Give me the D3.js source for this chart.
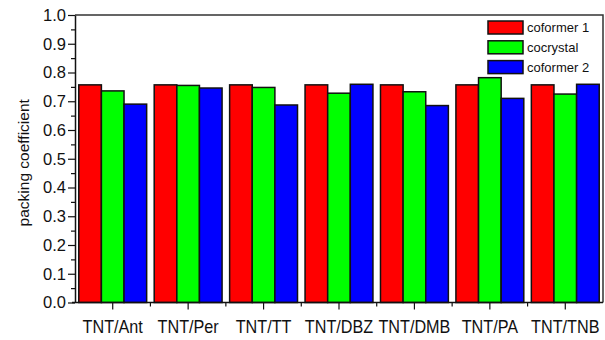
<!DOCTYPE html>
<html>
<head>
<meta charset="utf-8">
<script src="https://cdn.jsdelivr.net/npm/d3@7"></script>
<style>
  body { margin: 0; background: #fff; }
  text { font-family: "Liberation Sans", Arial, sans-serif; fill: #111; }
</style>
</head>
<body>
<div class="wrapper"></div>
<script>
// values
var categories = ["TNT/Ant", "TNT/Per", "TNT/TT", "TNT/DBZ", "TNT/DMB", "TNT/PA", "TNT/TNB"];
var seriesNames = ["coformer 1", "cocrystal", "coformer 2"];
var coformer1 = [0.757, 0.757, 0.757, 0.757, 0.757, 0.757, 0.757];
var cocrystal = [0.736, 0.755, 0.748, 0.728, 0.733, 0.782, 0.725];
var coformer2 = [0.690, 0.746, 0.687, 0.759, 0.685, 0.710, 0.759];
var yTicks = [0, 0.1, 0.2, 0.3, 0.4, 0.5, 0.6, 0.7, 0.8, 0.9, 1.0];

var colors = ["#ff0000", "#00ff00", "#0000ff"];
var series = [coformer1, cocrystal, coformer2];

var width = 605, height = 340;
var plotLeft = 75, plotRight = 603, plotTop = 15, plotBottom = 302.5;

var svg = d3.select(".wrapper").append("svg")
    .attr("width", width)
    .attr("height", height);

var x = d3.scaleBand()
    .domain(categories)
    .range([plotLeft, plotRight])
    .paddingInner(0.1)
    .paddingOuter(0.05);

var xSub = d3.scaleBand()
    .domain(seriesNames)
    .range([0, x.bandwidth()]);

var y = d3.scaleLinear()
    .domain([0, 1])
    .range([plotBottom, plotTop]);

// frame (top + right)
svg.append("path")
    .attr("d", "M" + plotLeft + "," + plotTop + "H" + plotRight + "V" + plotBottom)
    .attr("fill", "none")
    .attr("stroke", "#333")
    .attr("stroke-width", 1.5);

// bars
categories.forEach(function(cat, i) {
  svg.append("g")
      .attr("transform", "translate(" + x(cat) + ",0)")
    .selectAll("rect")
      .data(seriesNames)
    .enter().append("rect")
      .attr("x", function(s) { return xSub(s); })
      .attr("y", function(s, j) { return y(series[j][i]); })
      .attr("width", xSub.bandwidth())
      .attr("height", function(s, j) { return plotBottom - y(series[j][i]); })
      .attr("fill", function(s, j) { return colors[j]; })
      .attr("stroke", "#111")
      .attr("stroke-width", 1.5);
});

// y axis with minor ticks
var yMinor = d3.range(0.05, 1, 0.1);
svg.append("g")
    .attr("transform", "translate(" + plotLeft + ",0)")
    .call(d3.axisLeft(y).tickValues(yMinor).tickSize(4).tickFormat(""))
    .call(function(g) { g.select(".domain").remove(); })
    .selectAll("line").attr("stroke", "#111").attr("stroke-width", 1.2);

var yAxis = svg.append("g")
    .attr("transform", "translate(" + plotLeft + ",0)")
    .call(d3.axisLeft(y).tickValues(yTicks).tickSize(7).tickSizeOuter(0).tickFormat(d3.format(".1f")));
yAxis.select(".domain").attr("stroke", "#111").attr("stroke-width", 1.5);
yAxis.selectAll("line").attr("stroke", "#111").attr("stroke-width", 1.2);
yAxis.selectAll("text")
    .attr("x", -9)
    .style("font-size", "16.5px")
    .style("font-family", "'Liberation Sans', Arial, sans-serif");

// x axis: ticks at centres, short ticks at boundaries
var bounds = categories.slice(1).map(function(c) { return x(c) - x.step() * x.paddingInner() / 2; });
svg.append("g")
    .attr("transform", "translate(0," + plotBottom + ")")
    .selectAll("line")
    .data(bounds)
  .enter().append("line")
    .attr("x1", function(d) { return d; })
    .attr("x2", function(d) { return d; })
    .attr("y2", 4)
    .attr("stroke", "#111")
    .attr("stroke-width", 1.2);

var xAxis = svg.append("g")
    .attr("transform", "translate(0," + plotBottom + ")")
    .call(d3.axisBottom(x).tickSize(7).tickSizeOuter(0));
xAxis.select(".domain")
    .attr("d", "M" + (plotLeft - 3) + ",0H" + plotRight)
    .attr("stroke", "#111").attr("stroke-width", 1.5);
xAxis.selectAll("line").attr("stroke", "#111").attr("stroke-width", 1.2);
// narrow-looking labels, as in the picture
xAxis.selectAll("text")
    .attr("y", 0)
    .attr("dy", 0)
    .attr("transform", "translate(0,30.5) scale(0.9,1)")
    .style("font-size", "18px")
    .style("font-family", "'Liberation Sans', Arial, sans-serif");

// y title
svg.append("text")
    .attr("transform", "translate(29," + ((plotTop + plotBottom) / 2 + 4) + ") rotate(-90)")
    .attr("text-anchor", "middle")
    .style("font-size", "15.5px")
    .text("packing coefficient");

// legend
var legend = svg.append("g")
    .attr("transform", "translate(488,21)");
var item = legend.selectAll("g")
    .data(seriesNames)
  .enter().append("g")
    .attr("transform", function(d, i) { return "translate(0," + (i * 19.8) + ")"; });
item.append("rect")
    .attr("width", 35)
    .attr("height", 13)
    .attr("fill", function(d, i) { return colors[i]; })
    .attr("stroke", "#111")
    .attr("stroke-width", 1.5);
item.append("text")
    .attr("x", 39)
    .attr("y", 11)
    .style("font-size", "13px")
    .text(function(d) { return d; });
</script>
</body>
</html>
